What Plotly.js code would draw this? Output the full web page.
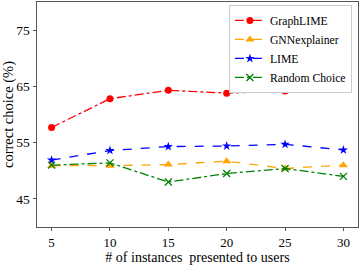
<!DOCTYPE html>
<html><head><meta charset="utf-8">
<script src="https://cdn.plot.ly/plotly-3.0.1.min.js"></script>
<style>html,body{margin:0;padding:0;background:#fff}</style>
</head><body>
<div id="chart" style="width:360px;height:265px"></div>
<script>
const xVals = [5, 10, 15, 20, 25, 30];
const graphLIME = [57.7, 62.8, 64.3, 63.8, 64.2, 64.8];
const gnnExplainer = [50.9, 50.9, 51.1, 51.7, 50.4, 51.0];
const lime = [51.9, 53.6, 54.3, 54.4, 54.7, 53.7];
const randomChoice = [51.0, 51.4, 48.0, 49.5, 50.4, 49.0];
const yTicks = [45, 55, 65, 75];

const font = "Liberation Serif, Times New Roman, serif";
const traces = [
  {x: xVals, y: graphLIME, name: 'GraphLIME', mode: 'lines+markers',
   line: {color: 'red', dash: 'dashdot', width: 1.3}, marker: {symbol: 'circle', size: 7, color: 'red'}},
  {x: xVals, y: gnnExplainer, name: 'GNNexplainer', mode: 'lines+markers',
   line: {color: 'orange', dash: 'dash', width: 1.3}, marker: {symbol: 'triangle-up', size: 8, color: 'orange'}},
  {x: xVals, y: lime, name: 'LIME', mode: 'lines+markers',
   line: {color: 'blue', dash: 'dash', width: 1.3}, marker: {symbol: 'star', size: 7, color: 'blue'}},
  {x: xVals, y: randomChoice, name: 'Random Choice', mode: 'lines+markers',
   line: {color: 'green', dash: 'dashdot', width: 1.3}, marker: {symbol: 'x-thin-open', size: 7, color: 'green', line: {color: 'green', width: 1.3}}}
];
const layout = {
  width: 360, height: 265,
  margin: {l: 37, r: 2, t: 2, b: 38},
  paper_bgcolor: 'white', plot_bgcolor: 'white',
  font: {family: font, size: 13, color: 'black'},
  showlegend: true,
  xaxis: {range: [3.75, 31.25], tickvals: xVals, ticks: 'outside', ticklen: 3, tickcolor: '#555',
    showline: true, linecolor: '#555', linewidth: 1, mirror: true, showgrid: false, zeroline: false,
    tickfont: {size: 13, family: font},
    title: {text: '# of instances  presented to users', font: {size: 14, family: font}, standoff: 3}},
  yaxis: {range: [40, 80], tickvals: yTicks, ticks: 'outside', ticklen: 3.5, tickcolor: '#555',
    showline: true, linecolor: '#555', linewidth: 1, mirror: true, showgrid: false, zeroline: false,
    tickfont: {size: 13.5, family: font},
    title: {text: 'correct choice (%)', font: {size: 14.5, family: font}, standoff: 3}},
  legend: {x: 0.981, y: 0.987, xanchor: 'right', yanchor: 'top', bgcolor: 'white',
    bordercolor: '#ccc', borderwidth: 1, font: {size: 11.7, family: font}, tracegroupgap: 0, itemwidth: 30}
};
Plotly.newPlot('chart', traces, layout, {displayModeBar: false, staticPlot: true});
</script>
</body></html>
